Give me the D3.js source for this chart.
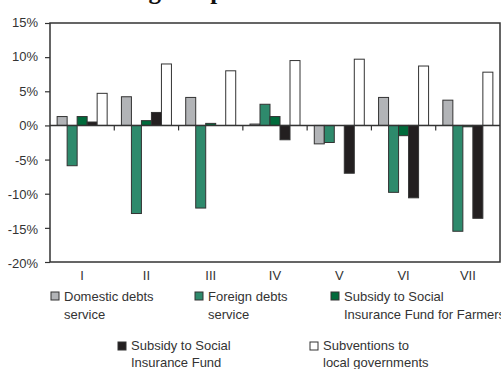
<!DOCTYPE html>
<html>
<head>
<meta charset="utf-8">
<script src="https://cdn.jsdelivr.net/npm/d3@7"></script>
<style>
  html, body { margin: 0; padding: 0; background: #fff; }
  svg { display: block; }
  text { font-family: "Liberation Sans", Arial, Helvetica, sans-serif; fill: #333; }
</style>
</head>
<body>
<svg id="chart" width="501" height="369"></svg>
<script>
// Periods on the x axis
const categories = ["I", "II", "III", "IV", "V", "VI", "VII"];

// Series names (legend order)
const seriesNames = [
  "Domestic debts service",
  "Foreign debts service",
  "Subsidy to Social Insurance Fund for Farmers",
  "Subsidy to Social Insurance Fund",
  "Subventions to local governments"
];

// Values in percent, one array per series
const domesticDebts   = [1.3, 4.2, 4.1, 0.2, -2.7, 4.1, 3.7];
const foreignDebts    = [-5.9, -12.9, -12.1, 3.1, -2.5, -9.8, -15.5];
const farmersFund     = [1.3, 0.7, 0.3, 1.3, 0, -1.5, -0.2];
const insuranceFund   = [0.5, 1.9, 0, -2.1, -7.0, -10.6, -13.6];
const subventions     = [4.7, 9.0, 8.0, 9.5, 9.7, 8.7, 7.8];

// Y axis ticks
const yTicks = [15, 10, 5, 0, -5, -10, -15, -20];

const seriesValues = [domesticDebts, foreignDebts, farmersFund, insuranceFund, subventions];
const colors = ["#b2b4b7", "#2e8a6c", "#006a3b", "#231f20", "#ffffff"];

// Legend label lines
const legendLines = [
  ["Domestic debts", "service"],
  ["Foreign debts", "service"],
  ["Subsidy to Social", "Insurance Fund for Farmers"],
  ["Subsidy to Social", "Insurance Fund"],
  ["Subventions to", "local governments"]
];

const svg = d3.select("#chart");
const plot = { left: 50, right: 500, top: 23, bottom: 262 };

// Title, sitting above the top edge so only its descenders show
svg.append("text")
  .attr("x", 104)
  .attr("y", -1.5)
  .style("font-family", '"Liberation Serif", "Times New Roman", serif')
  .style("font-weight", "bold")
  .style("font-size", "25px")
  .style("fill", "#111")
  .text("Budget expenditures");

const y = d3.scaleLinear().domain([-20, 15]).range([plot.bottom, plot.top]);
const x0 = d3.scaleBand().domain(categories).range([plot.left, plot.right]).padding(0);
const bw = x0.bandwidth();
const x1 = d3.scaleBand().domain(d3.range(seriesNames.length))
  .range([bw * 0.111, bw * 0.889]).padding(0);

// Bars
const groups = svg.append("g").selectAll("g")
  .data(categories)
  .join("g")
  .attr("transform", d => `translate(${x0(d)},0)`);

groups.selectAll("rect")
  .data((c, i) => seriesValues.map((vals, s) => ({ s, v: vals[i] })).filter(d => d.v !== 0))
  .join("rect")
  .attr("x", d => x1(d.s))
  .attr("width", x1.bandwidth())
  .attr("y", d => y(Math.max(0, d.v)))
  .attr("height", d => Math.abs(y(d.v) - y(0)))
  .attr("fill", d => colors[d.s])
  .attr("stroke", "#333")
  .attr("stroke-width", 1);

// Zero line
svg.append("line")
  .attr("x1", plot.left).attr("x2", plot.right)
  .attr("y1", y(0)).attr("y2", y(0))
  .attr("stroke", "#333").attr("stroke-width", 1.5);

// Category tick marks below the zero line
svg.append("g").selectAll("line")
  .data(categories.slice(1))
  .join("line")
  .attr("x1", d => x0(d)).attr("x2", d => x0(d))
  .attr("y1", y(0)).attr("y2", y(0) + 5)
  .attr("stroke", "#333").attr("stroke-width", 1.2);

// Frame
svg.append("rect")
  .attr("x", plot.left).attr("y", plot.top)
  .attr("width", plot.right - plot.left).attr("height", plot.bottom - plot.top)
  .attr("fill", "none").attr("stroke", "#333").attr("stroke-width", 1.5);

// Y axis ticks and labels
const yAxis = d3.axisLeft(y).tickValues(yTicks).tickSize(5).tickFormat(d => d + "%");
const yg = svg.append("g").attr("transform", `translate(${plot.left},0)`).call(yAxis);
yg.select(".domain").remove();
yg.selectAll(".tick line").attr("stroke", "#333").attr("stroke-width", 1.2);
yg.selectAll(".tick text")
  .attr("x", -12)
  .attr("dy", d => (0.32 + (-d) * 0.006) + "em")
  .style("font-size", "13px")
  .style("font-family", '"Liberation Sans", Arial, sans-serif')
  .attr("fill", "#333");

// Category labels
svg.append("g").selectAll("text")
  .data(categories)
  .join("text")
  .attr("x", d => x0(d) + bw / 2)
  .attr("y", 280)
  .attr("text-anchor", "middle")
  .style("font-size", "13px")
  .text(d => d);

// Legend
const legendPos = [
  { x: 51, y: 292, dy: 9 }, { x: 195, y: 292, dy: 9 }, { x: 331, y: 292, dy: 9 },
  { x: 118, y: 342, dy: 7.5 }, { x: 310, y: 342, dy: 7.5 }
];
const legend = svg.append("g").selectAll("g")
  .data(seriesNames)
  .join("g")
  .attr("transform", (d, i) => `translate(${legendPos[i].x},${legendPos[i].y})`);

legend.append("rect")
  .attr("width", 8).attr("height", 8)
  .attr("fill", (d, i) => colors[i])
  .attr("stroke", "#333").attr("stroke-width", 1);

legend.append("text")
  .style("font-size", "13px")
  .each(function (d, i) {
    d3.select(this).selectAll("tspan")
      .data(legendLines[i])
      .join("tspan")
      .attr("x", 13)
      .attr("y", (t, j) => legendPos[i].dy + j * 17.5)
      .text(t => t);
  });
</script>
</body>
</html>
